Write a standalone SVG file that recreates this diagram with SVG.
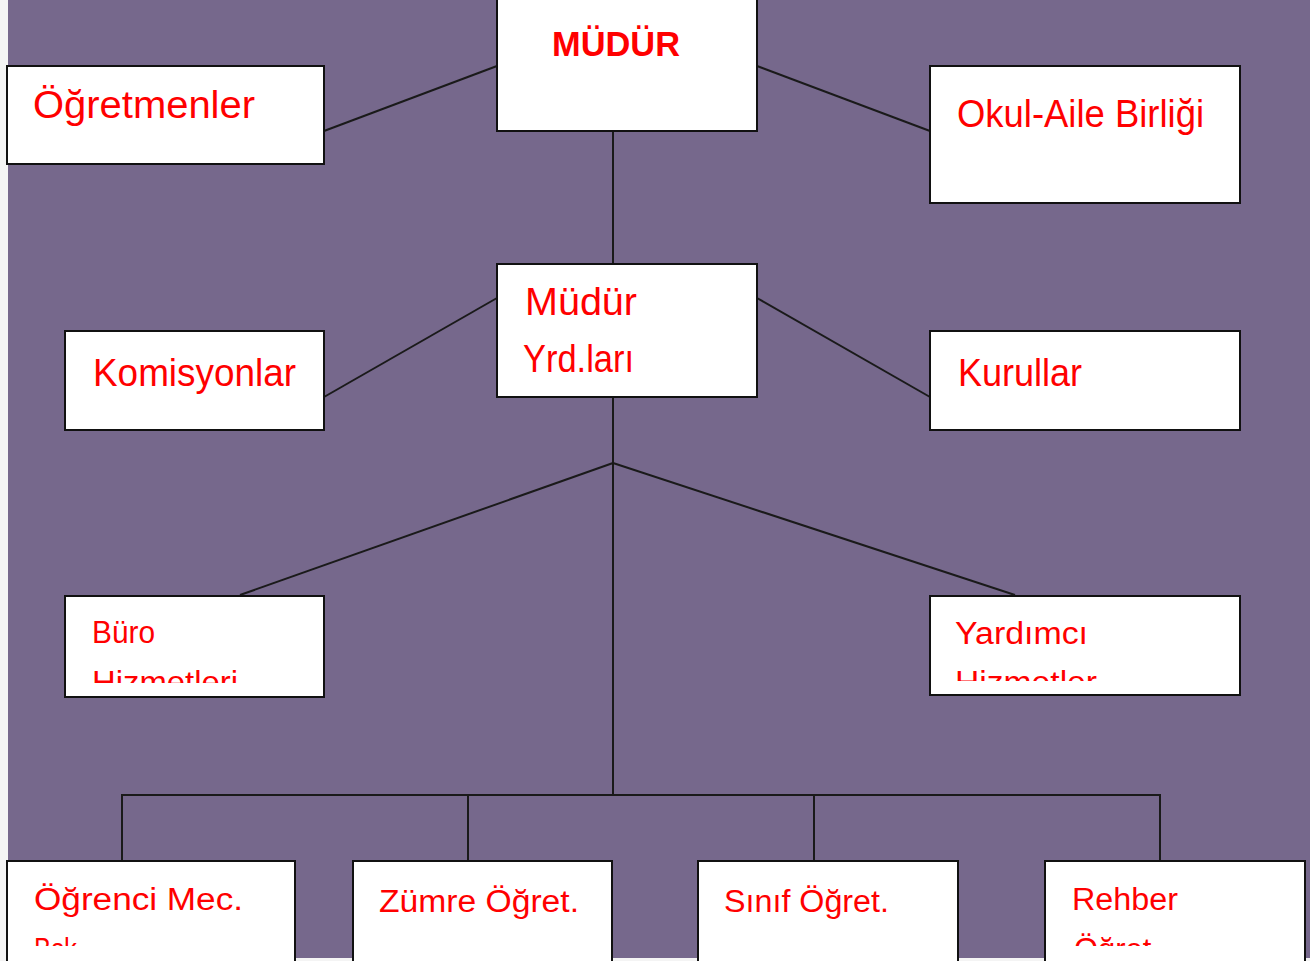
<svg xmlns="http://www.w3.org/2000/svg" width="1310" height="961" viewBox="0 0 1310 961">
<style>
.box{fill:#ffffff;stroke:#111111;stroke-width:2}
.t{fill:#ff0000;font-family:"Liberation Sans","DejaVu Sans",sans-serif;font-size:38px}
.s{font-size:31px}
.b{font-weight:bold;font-size:35px}
.c{stroke:#1a1a1a;stroke-width:2;fill:none}
</style>
<defs>
<clipPath id="cBuro"><rect x="60" y="600" width="270" height="83"/></clipPath>
<clipPath id="cYard"><rect x="925" y="600" width="320" height="81"/></clipPath>
<clipPath id="cOgr"><rect x="5" y="865" width="295" height="81"/></clipPath>
<clipPath id="cReh"><rect x="1040" y="865" width="270" height="81"/></clipPath>
</defs>
<rect x="0" y="0" width="1310" height="961" fill="#f4f4f4"/>
<rect x="8" y="0" width="1302" height="958" fill="#76688c"/>
<g id="connectors">
<line class="c" x1="497" y1="66" x2="324" y2="131"/>
<line class="c" x1="757" y1="66" x2="930" y2="131"/>
<line class="c" x1="613" y1="131" x2="613" y2="264"/>
<line class="c" x1="497" y1="298" x2="324" y2="397"/>
<line class="c" x1="757" y1="298" x2="930" y2="397"/>
<line class="c" x1="613" y1="397" x2="613" y2="795"/>
<line class="c" x1="613" y1="463" x2="240" y2="595"/>
<line class="c" x1="613" y1="463" x2="1015" y2="595"/>
<line class="c" x1="121" y1="795" x2="1161" y2="795"/>
<line class="c" x1="122" y1="795" x2="122" y2="861"/>
<line class="c" x1="468" y1="795" x2="468" y2="861"/>
<line class="c" x1="814" y1="795" x2="814" y2="861"/>
<line class="c" x1="1160" y1="795" x2="1160" y2="861"/>
</g>
<g id="mudur">
<rect class="box" x="497" y="-1" width="260" height="132"/>
<text class="t b" x="552" y="56" textLength="128" lengthAdjust="spacingAndGlyphs">MÜDÜR</text>
</g>
<g id="ogretmenler">
<rect class="box" x="7" y="66" width="317" height="98"/>
<text class="t" x="33" y="118" textLength="222" lengthAdjust="spacingAndGlyphs">Öğretmenler</text>
</g>
<g id="okul-aile">
<rect class="box" x="930" y="66" width="310" height="137"/>
<text class="t" x="957" y="127" textLength="247" lengthAdjust="spacingAndGlyphs">Okul-Aile Birliği</text>
</g>
<g id="mudur-yrd">
<rect class="box" x="497" y="264" width="260" height="133"/>
<text class="t" x="525" y="315" textLength="112" lengthAdjust="spacingAndGlyphs">Müdür</text>
<text class="t" x="523" y="372" textLength="111" lengthAdjust="spacingAndGlyphs">Yrd.ları</text>
</g>
<g id="komisyonlar">
<rect class="box" x="65" y="331" width="259" height="99"/>
<text class="t" x="93" y="386" textLength="203" lengthAdjust="spacingAndGlyphs">Komisyonlar</text>
</g>
<g id="kurullar">
<rect class="box" x="930" y="331" width="310" height="99"/>
<text class="t" x="958" y="386" textLength="124" lengthAdjust="spacingAndGlyphs">Kurullar</text>
</g>
<g id="buro">
<rect class="box" x="65" y="596" width="259" height="101"/>
<text class="t s" x="92" y="643" textLength="63" lengthAdjust="spacingAndGlyphs">Büro</text>
<text class="t s" x="92" y="693" textLength="146" lengthAdjust="spacingAndGlyphs" clip-path="url(#cBuro)">Hizmetleri</text>
</g>
<g id="yardimci">
<rect class="box" x="930" y="596" width="310" height="99"/>
<text class="t s" x="955" y="644" textLength="133" lengthAdjust="spacingAndGlyphs">Yardımcı</text>
<text class="t s" x="955" y="693" textLength="142" lengthAdjust="spacingAndGlyphs" clip-path="url(#cYard)">Hizmetler</text>
</g>
<g id="ogrenci-mec">
<rect class="box" x="7" y="861" width="288" height="102"/>
<text class="t s" x="34" y="910" textLength="209" lengthAdjust="spacingAndGlyphs">Öğrenci Mec.</text>
<text class="t s" x="34" y="960" textLength="50" lengthAdjust="spacingAndGlyphs" clip-path="url(#cOgr)">Bşk.</text>
</g>
<g id="zumre">
<rect class="box" x="353" y="861" width="259" height="102"/>
<text class="t s" x="379" y="912" textLength="200" lengthAdjust="spacingAndGlyphs">Zümre Öğret.</text>
</g>
<g id="sinif">
<rect class="box" x="698" y="861" width="260" height="102"/>
<text class="t s" x="724" y="912" textLength="165" lengthAdjust="spacingAndGlyphs">Sınıf Öğret.</text>
</g>
<g id="rehber">
<rect class="box" x="1045" y="861" width="260" height="102"/>
<text class="t s" x="1072" y="910" textLength="106" lengthAdjust="spacingAndGlyphs">Rehber</text>
<text class="t s" x="1074" y="960" textLength="86" lengthAdjust="spacingAndGlyphs" clip-path="url(#cReh)">Öğret.</text>
</g>
</svg>
